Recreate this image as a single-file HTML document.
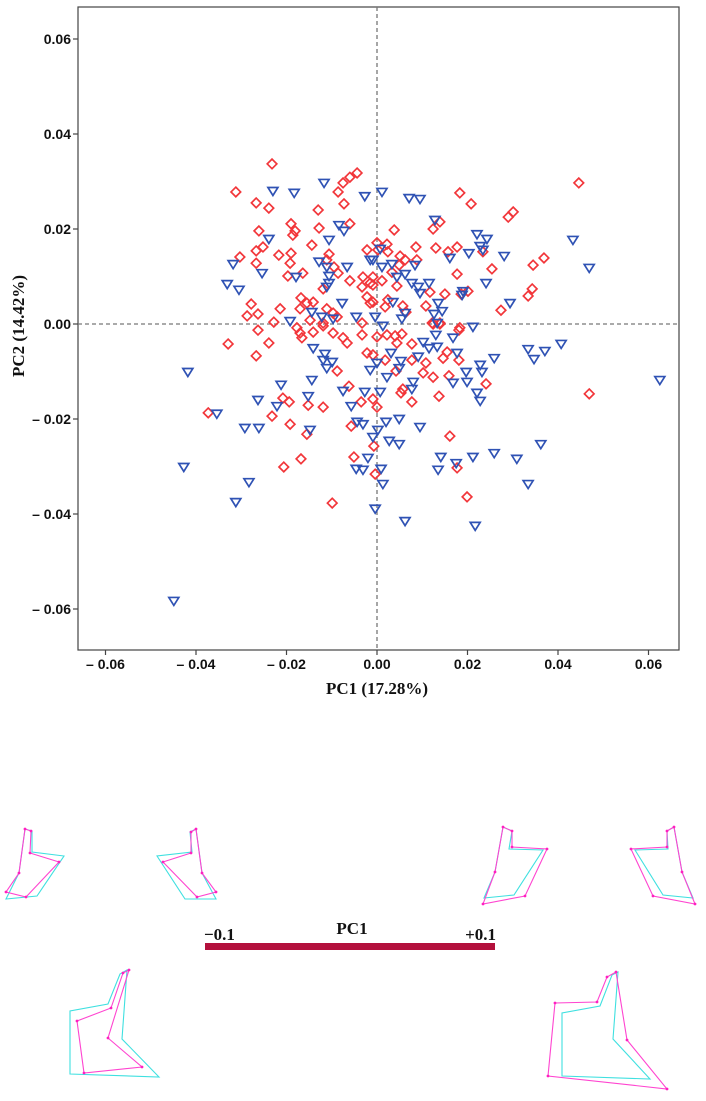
<!DOCTYPE html>
<html>
<head>
<meta charset="utf-8">
<style>
  html,body{margin:0;padding:0;background:#fff;}
  svg{display:block;}
  .tick{font-family:"Liberation Sans",sans-serif;font-weight:bold;font-size:14px;fill:#111;}
  .title{font-family:"Liberation Serif",serif;font-weight:bold;font-size:17px;fill:#111;}
</style>
</head>
<body>
<svg id="chart" width="706" height="1101" viewBox="0 0 706 1101">
  <rect x="78" y="7" width="601" height="643" fill="#fff" stroke="#444" stroke-width="1.2"/>
  <g id="grid"></g>
  <g id="ticks"></g>
  <g id="points"></g>
  <text class="title" x="377" y="694" text-anchor="middle">PC1 (17.28%)</text>
  <text class="title" x="0" y="0" text-anchor="middle" transform="translate(24,326) rotate(-90)">PC2 (14.42%)</text>

  <g id="shapes"></g>
  <rect x="205" y="943" width="290" height="7" fill="#b3103c"/>
  <text class="title" x="204" y="940">−0.1</text>
  <text class="title" x="352" y="934" text-anchor="middle">PC1</text>
  <text class="title" x="496" y="940" text-anchor="end">+0.1</text>
</svg>
<script>
// Values in units of 1e-3
const redPC1 = [-23.2,-31.2,-26.7,-23.9,-13.0,-7.3,-8.6,-7.5,-6.0,-4.4,-19.0,-18.1,-18.6,-12.8,-6.0,-26.1,-14.4,-25.2,-26.7,-21.7,-19.0,-30.3,-26.7,-19.2,-10.6,-11.1,-2.2,-9.5,-19.7,-16.4,-8.6,-6.0,-11.9,-3.1,-1.5,-3.3,-2.2,-1.5,-27.8,-28.7,-26.3,-21.4,-16.8,-15.5,-14.1,-17.0,-11.1,-9.7,-8.8,-22.8,-14.8,-11.9,-3.3,
44.6,18.3,20.8,29.0,30.1,13.9,12.4,3.8,8.6,13.0,17.7,15.7,23.4,0,2.2,2.4,0.2,5.1,6.2,8.8,4.9,3.3,25.4,34.5,36.9,17.7,-0.9,1.1,-0.9,4.4,11.7,15.0,18.6,20.1,34.3,33.4,-0.9,2.4,1.8,5.7,6.4,10.8,27.4,12.2,13.9,18.3,
-26.3,-32.9,-23.9,-26.7,-17.7,-17.0,-16.6,-14.1,-11.9,-9.7,-7.5,-6.6,-3.3,-2.2,-0.9,-8.8,-6.2,-20.8,-19.4,-37.3,-23.2,-15.2,-11.9,-19.2,-15.5,-3.5,-0.9,-5.7,-0.7,-5.1,-16.8,-20.6,-0.4,-9.9,
18.1,12.4,13.9,2.2,4.0,4.4,5.5,0,1.8,7.7,7.7,10.8,15.5,14.6,18.1,10.2,12.4,15.9,4.2,24.1,5.7,5.3,13.7,7.7,0,46.9,16.1,17.7,19.9];
const redPC2 = [33.7,27.8,25.5,24.4,24.0,25.3,27.8,29.7,30.9,31.8,21.1,19.6,18.7,20.2,21.1,19.6,16.6,16.2,15.4,14.5,14.9,14.1,12.8,12.8,14.7,13.5,15.6,12.0,10.1,10.7,10.7,9.1,7.4,9.9,8.6,7.8,5.7,4.4,4.2,1.7,2.1,3.2,5.5,4.4,4.6,3.2,3.2,2.3,1.5,0.4,0.8,0.2,0.2,
29.7,27.6,25.3,22.5,23.6,21.5,20.0,19.8,16.2,16.0,16.2,15.2,15.2,17.1,16.8,15.2,15.6,14.3,13.5,13.5,12.4,10.9,11.6,12.4,13.9,10.5,9.9,9.1,8.2,8.0,6.7,6.3,6.3,6.9,7.4,5.9,4.6,5.1,3.6,3.8,2.5,3.8,2.9,0.2,0.2,-0.8,
-1.3,-4.2,-4.0,-6.7,-0.8,-1.9,-2.9,-1.7,-0.4,-1.9,-2.9,-4.0,-2.3,-6.1,-6.5,-9.9,-13.1,-15.6,-16.4,-18.7,-19.4,-17.1,-17.5,-21.1,-23.2,-16.4,-15.8,-21.5,-25.7,-28.0,-28.4,-30.1,-31.6,-37.7,
-1.3,0,0,-2.3,-2.5,-4.0,-2.1,-2.7,-7.6,-7.6,-4.2,-8.2,-5.9,-7.2,-7.6,-10.3,-11.2,-10.9,-9.9,-12.6,-13.7,-14.5,-15.2,-16.4,-17.5,-14.7,-23.6,-30.3,-36.4];
const bluePC1 = [-11.7,-23.0,-18.3,-2.7,1.1,-8.4,-7.3,-23.9,-10.6,-31.8,-25.4,-33.1,-30.5,-12.8,-11.1,-6.6,-1.5,-17.9,-10.6,-10.6,-11.1,-7.7,-19.2,-14.4,-12.2,-9.7,-4.6,-0.4,
7.1,9.5,12.8,22.1,24.3,22.8,23.4,20.3,16.1,28.1,43.3,46.9,24.1,0.7,-0.9,1.1,3.3,8.4,4.4,6.2,7.7,9.1,9.5,11.5,18.8,19.0,13.5,14.4,12.6,3.5,6.2,5.5,1.3,29.4,21.2,13.3,
-41.8,-14.1,-11.5,-11.9,-9.9,-11.1,-21.2,-14.4,-26.3,-22.1,-15.2,-7.5,-2.7,-5.7,-35.4,-29.2,-26.1,-14.8,-4.4,-3.1,-0.9,-1.5,-2.0,-4.6,-3.1,-42.7,-28.3,-31.2,-0.4,
13.0,16.8,10.2,11.5,13.3,17.7,3.1,9.1,5.3,25.9,33.4,37.1,40.7,34.7,0,4.9,2.2,22.8,23.2,19.7,19.9,16.8,8.0,7.7,22.1,22.8,0.7,4.9,2.0,0.2,9.5,2.7,4.9,36.2,14.1,21.2,25.9,30.9,17.5,13.5,0.9,1.3,33.4,6.2,21.7,-44.9,62.5];
const bluePC2 = [29.7,28.0,27.6,26.9,27.8,20.8,19.6,17.9,17.7,12.6,10.7,8.4,7.2,13.1,12.0,12.0,13.5,9.9,10.1,8.6,7.8,4.4,0.6,2.5,1.5,1.1,1.5,1.5,
26.5,26.3,21.9,18.9,17.9,16.4,15.6,14.9,13.9,14.3,17.7,11.8,8.6,15.8,13.5,12.0,12.6,12.4,9.9,10.5,8.6,7.8,6.5,8.6,6.1,6.9,4.4,2.7,2.1,4.6,2.3,1.1,-0.4,4.4,-0.6,0.2,
-10.1,-5.1,-6.3,-7.6,-8.0,-9.3,-12.8,-11.8,-16.0,-17.3,-15.2,-14.1,-14.3,-17.3,-18.9,-21.9,-21.9,-22.3,-20.6,-21.1,-23.8,-9.7,-28.2,-30.5,-30.7,-30.1,-33.3,-37.5,-38.9,
-2.3,-2.9,-3.8,-5.1,-4.8,-6.1,-6.1,-6.9,-7.8,-7.2,-5.3,-5.7,-4.2,-7.4,-8.2,-9.3,-11.2,-8.6,-10.1,-10.1,-12.2,-12.4,-12.2,-13.7,-14.5,-16.2,-14.3,-20.0,-20.6,-22.3,-21.7,-24.6,-25.3,-25.3,-28.0,-28.0,-27.2,-28.4,-29.3,-30.7,-30.5,-33.7,-33.7,-41.5,-42.5,-58.3,-11.8];
const xTicks = [-0.06,-0.04,-0.02,0,0.02,0.04,0.06];
const yTicks = [0.06,0.04,0.02,0,-0.02,-0.04,-0.06];
const xTickLabels = ["– 0.06","– 0.04","– 0.02","0.00","0.02","0.04","0.06"];
const yTickLabels = ["0.06","0.04","0.02","0.00","– 0.02","– 0.04","– 0.06"];

const NS = "http://www.w3.org/2000/svg";
const X0 = 377, KX = 4525, Y0 = 324, KY = 4750;
const PLOT = {l:78, r:679, t:7, b:650};
function xScale(v){ return X0 + v*KX; }
function yScale(v){ return Y0 - v*KY; }
function mk(tag, attrs, parent){
  const e = document.createElementNS(NS, tag);
  for (const k in attrs) e.setAttribute(k, attrs[k]);
  parent.appendChild(e);
  return e;
}
const grid = document.getElementById('grid');
let vl = mk('line',{x1:xScale(0),x2:xScale(0),y1:PLOT.t,y2:PLOT.b,stroke:'#777','stroke-width':1.3,'stroke-dasharray':'4,3'},grid);


let hl = mk('line',{x1:PLOT.l,x2:PLOT.r,y1:yScale(0),y2:yScale(0),stroke:'#777','stroke-width':1.3,'stroke-dasharray':'4,3'},grid);



const ticks = document.getElementById('ticks');
xTicks.forEach((v,i)=>{
  const x = xScale(v);
  const t = mk('line',{x1:x,x2:x,y1:PLOT.b,y2:PLOT.b+5,stroke:'#444','stroke-width':1.2},ticks);
  
  
  const l = mk('text',{x:x,y:PLOT.b+19,'text-anchor':'middle',class:'tick'},ticks);
  l.textContent = xTickLabels[i];
  
  
});
yTicks.forEach((v,i)=>{
  const y = yScale(v);
  const t = mk('line',{x1:PLOT.l-5,x2:PLOT.l,y1:y,y2:y,stroke:'#444','stroke-width':1.2},ticks);
  
  
  const l = mk('text',{x:PLOT.l-7,y:y+5,'text-anchor':'end',class:'tick'},ticks);
  l.textContent = yTickLabels[i];
  
  
});

const pts = document.getElementById('points');
redPC1.forEach((v,i)=>{
  const cx = xScale(v/1000), cy = yScale(redPC2[i]/1000), s = 4.8;
  const p = mk('polygon',{points:`${cx},${cy-s} ${cx+s},${cy} ${cx},${cy+s} ${cx-s},${cy}`,fill:'none',stroke:'#f2363a','stroke-width':1.7},pts);
  
  
});
bluePC1.forEach((v,i)=>{
  const cx = xScale(v/1000), cy = yScale(bluePC2[i]/1000);
  const p = mk('polygon',{points:`${cx-5},${cy-3.5} ${cx+5},${cy-3.5} ${cx},${cy+4.5}`,fill:'none',stroke:'#2f52b4','stroke-width':1.7},pts);
  
  
});

// landmark configuration outlines (pink = extreme, cyan = mean)
const shapesPink = [
  [[25,829],[31,831],[30,853],[59,862],[26,897],[6,892],[19,873]],
  [[196,829],[191,832],[191,853],[163,862],[197,897],[216,892],[202,873]],
  [[503,827],[512,831],[512,847],[547,849],[525,896],[483,904],[495,872]],
  [[674,827],[667,831],[667,847],[631,849],[653,896],[695,904],[682,872]],
  [[129,970],[123,973],[111,1008],[77,1021],[84,1073],[142,1067],[108,1038]],
  [[616,972],[607,977],[597,1002],[555,1003],[548,1076],[667,1089],[627,1040]]
];
const shapesCyan = [
  [[25,829],[32,831],[32,852],[64,856],[37,896],[6,899],[19,873]],
  [[196,829],[190,832],[192,852],[157,856],[185,899],[216,899],[202,873]],
  [[503,827],[512,831],[509,849],[543,850],[514,895],[484,898],[495,872]],
  [[674,827],[667,831],[668,849],[635,850],[663,895],[693,898],[682,872]],
  [[127,970],[120,974],[108,1004],[70,1011],[70,1074],[159,1077],[122,1039]],
  [[618,972],[612,975],[600,1006],[562,1013],[562,1076],[650,1079],[613,1039]]
];
const sh = document.getElementById('shapes');
shapesCyan.forEach(s=>{
  const p = mk('polygon',{points:s.map(q=>q.join(',')).join(' '),fill:'none',stroke:'#3fe0e0','stroke-width':1.1},sh);
  
  
});
shapesPink.forEach(s=>{
  const p = mk('polygon',{points:s.map(q=>q.join(',')).join(' '),fill:'none',stroke:'#ff44d0','stroke-width':1.1},sh);
  
  
  s.forEach(q=>{
    const c = mk('circle',{cx:q[0],cy:q[1],r:1.4,fill:'#ff20c0'},sh);
    
    
  });
});
</script>
</body>
</html>
